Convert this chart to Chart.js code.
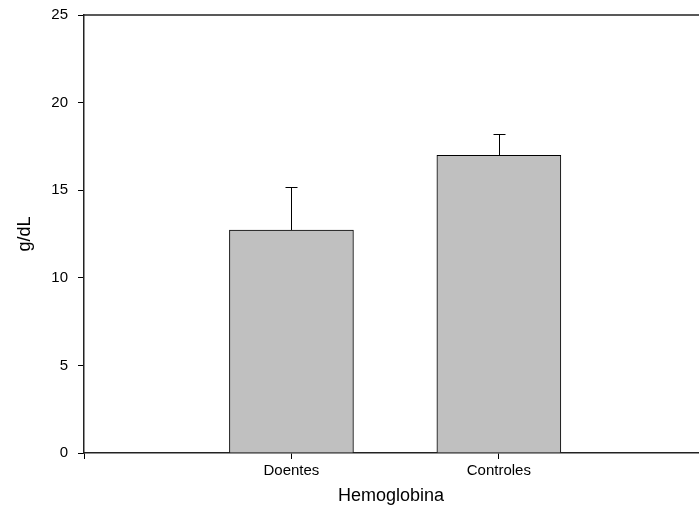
<!DOCTYPE html>
<html><head><meta charset="utf-8">
<script src="https://cdn.jsdelivr.net/npm/chart.js@4/dist/chart.umd.min.js"></script>
<style>html,body{margin:0;padding:0;background:#fff;overflow:hidden}#w{width:699px;height:511px}</style>
</head><body><div id="w"><canvas id="c" width="699" height="511"></canvas></div>
<script>
const categories = ['Doentes', 'Controles'];
const positions = [1, 2];
const means = [12.73, 16.99];
const errors = [2.44, 1.24];
const yTicks = [0, 5, 10, 15, 20, 25];

const FONT = 'Liberation Sans, Arial, sans-serif';

const errorPlugin = {
  id: 'errs',
  afterDatasetsDraw(chart) {
    const ctx = chart.ctx, xs = chart.scales.x, ys = chart.scales.y;
    ctx.save();
    ctx.strokeStyle = '#000'; ctx.lineWidth = 1;
    means.forEach((m, i) => {
      const x = Math.round(xs.getPixelForValue(positions[i])) + 0.5;
      const y0 = ys.getPixelForValue(m), y1 = Math.round(ys.getPixelForValue(m + errors[i])) + 0.5;
      ctx.beginPath(); ctx.moveTo(x, y0); ctx.lineTo(x, y1);
      ctx.moveTo(x - 6, y1); ctx.lineTo(x + 6, y1); ctx.stroke();
    });
    const a = chart.chartArea;
    ctx.strokeStyle = '#222'; ctx.lineWidth = 1.5;
    ctx.beginPath(); ctx.moveTo(a.left, a.top); ctx.lineTo(a.right + 2, a.top); ctx.stroke();
    ctx.restore();
  }
};

new Chart(document.getElementById('c'), {
  type: 'bar',
  data: {
    datasets: [{
      data: positions.map((p, i) => ({x: p, y: means[i]})),
      backgroundColor: '#c0c0c0',
      borderColor: '#000',
      borderWidth: 1,
      barThickness: 124,
      borderSkipped: 'bottom'
    }]
  },
  options: {
    responsive: false,
    animation: false,
    layout: {padding: {top: 15, right: 1, left: 0, bottom: 0}},
    plugins: {legend: {display: false}, tooltip: {enabled: false}},
    scales: {
      x: {
        type: 'linear', min: 0, max: 2.96, offset: false,
        afterBuildTicks: s => { s.ticks = [0, ...positions].map(v => ({value: v})); },
        afterFit: s => { s.height = 58; s.paddingLeft = 0; s.paddingRight = 0; },
        ticks: {
          autoSkip: false, maxRotation: 0, padding: 3,
          color: '#000', font: {family: FONT, size: 15},
          callback: v => { const i = positions.indexOf(v); return i >= 0 ? categories[i] : ''; }
        },
        grid: {drawOnChartArea: false, offset: false, tickLength: 6, color: '#000'},
        border: {color: '#222', width: 1.5},
        title: {display: true, text: 'Hemoglobina', color: '#000', font: {family: FONT, size: 18}, padding: {top: 4}}
      },
      y: {
        min: 0, max: 25,
        afterBuildTicks: s => { s.ticks = yTicks.map(v => ({value: v})); },
        afterFit: s => { s.width = 84; s.paddingTop = 0; s.paddingBottom = 0; },
        ticks: {padding: 10, color: '#000', font: {family: FONT, size: 15}},
        grid: {drawOnChartArea: false, tickLength: 6, color: '#000'},
        border: {color: '#222', width: 1.5},
        title: {display: true, text: 'g/dL', color: '#000', font: {family: FONT, size: 18}, padding: {top: 14, bottom: 4}}
      }
    }
  },
  plugins: [errorPlugin]
});
</script></body></html>
